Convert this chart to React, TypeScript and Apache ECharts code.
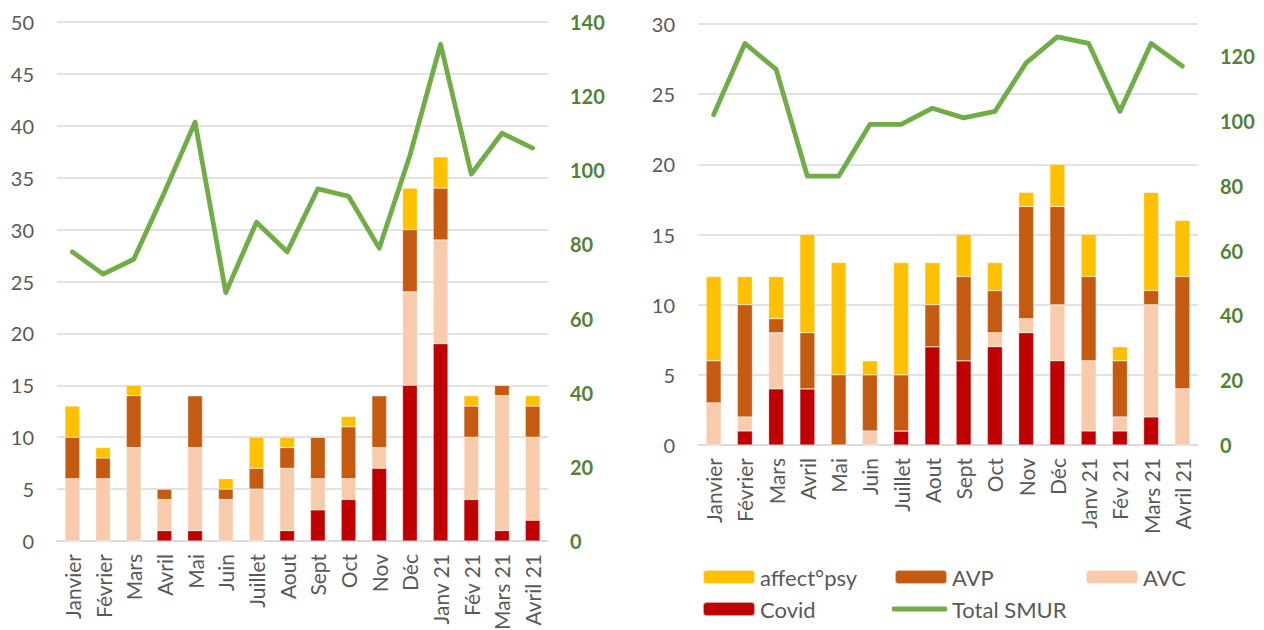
import React, { useEffect, useRef } from "react";
import * as echarts from "echarts";

const categories = ["Janvier", "Février", "Mars", "Avril", "Mai", "Juin", "Juillet", "Aout", "Sept", "Oct", "Nov", "Déc", "Janv 21", "Fév 21", "Mars 21", "Avril 21"];

// Left chart
const leftCovid = [0, 0, 0, 1, 1, 0, 0, 1, 3, 4, 7, 15, 19, 4, 1, 2];
const leftAVC = [6, 6, 9, 3, 8, 4, 5, 6, 3, 2, 2, 9, 10, 6, 13, 8];
const leftAVP = [4, 2, 5, 1, 5, 1, 2, 2, 4, 5, 5, 6, 5, 3, 1, 3];
const leftPsy = [3, 1, 1, 0, 0, 1, 3, 1, 0, 1, 0, 4, 3, 1, 0, 1];
const leftTotal = [78, 72, 76, 94, 113, 67, 86, 78, 95, 93, 79, 104, 134, 99, 110, 106];

// Right chart
const rightCovid = [0, 1, 4, 4, 0, 0, 1, 7, 6, 7, 8, 6, 1, 1, 2, 0];
const rightAVC = [3, 1, 4, 0, 0, 1, 0, 0, 0, 1, 1, 4, 5, 1, 8, 4];
const rightAVP = [3, 8, 1, 4, 5, 4, 4, 3, 6, 3, 8, 7, 6, 4, 1, 8];
const rightPsy = [6, 2, 3, 7, 8, 1, 8, 3, 3, 2, 1, 3, 3, 1, 7, 4];
const rightTotal = [102, 124, 116, 83, 83, 99, 99, 104, 101, 103, 118, 126, 124, 103, 124, 117];

const COLORS = {
  psy: "#FFC000",
  avp: "#C55A11",
  avc: "#F8CBAD",
  covid: "#C00000",
  total: "#70AD47",
};

const FONT = "Lato, 'Liberation Sans', sans-serif";
const GREY = "#595959";
const GREEN = "#548235";

export default function App() {
  const ref = useRef<HTMLDivElement>(null);

  useEffect(() => {
    if (!ref.current) return;
    const chart = echarts.init(ref.current, undefined, { renderer: "svg" });

    const xAxisCommon = (gridIndex: number) => ({
      type: "category" as const,
      gridIndex,
      data: categories,
      axisTick: { show: false },
      axisLine: { show: true, lineStyle: { color: "#D9D9D9", width: 1.5 } },
      axisLabel: {
        rotate: 90,
        margin: 13,
        interval: 0,
        color: GREY,
        fontSize: 21,
        fontFamily: FONT,
      },
    });

    const leftY = (gridIndex: number, max: number, interval: number) => ({
      type: "value" as const,
      gridIndex,
      min: 0,
      max,
      interval,
      axisLine: { show: false },
      axisTick: { show: false },
      splitLine: { show: true, lineStyle: { color: "#D9D9D9", width: 1.5 } },
      axisLabel: { color: GREY, fontSize: 20, fontFamily: FONT, margin: 23 },
    });

    const rightY = (gridIndex: number, max: number, showMax: boolean) => ({
      type: "value" as const,
      gridIndex,
      position: "right" as const,
      min: 0,
      max,
      interval: 20,
      axisLine: { show: false },
      axisTick: { show: false },
      splitLine: { show: false },
      axisLabel: {
        color: GREEN,
        fontSize: 20,
        fontWeight: "bold" as const,
        fontFamily: FONT,
        margin: 22,
        showMaxLabel: showMax,
      },
    });

    const bar = (name: string, data: number[], color: string, xi: number, yi: number) => ({
      name,
      type: "bar" as const,
      stack: "s" + xi,
      xAxisIndex: xi,
      yAxisIndex: yi,
      data,
      barWidth: "48%",
      itemStyle: { color, borderColor: "rgba(255,255,255,0.6)", borderWidth: 0.5 },
    });

    const line = (data: number[], xi: number, yi: number) => ({
      name: "Total SMUR",
      type: "line" as const,
      xAxisIndex: xi,
      yAxisIndex: yi,
      data,
      symbol: "none",
      z: 5,
      lineStyle: { color: COLORS.total, width: 4.8, cap: "round", join: "round" },
      itemStyle: { color: COLORS.total },
    });

    const legendItem = (name: string, left: number, top: number, extra: any = {}) => ({
      data: [name],
      left,
      top,
      padding: 0,
      itemWidth: 52,
      itemHeight: 14,
      itemGap: 0,
      selectedMode: false,
      textStyle: { color: GREY, fontSize: 22, fontFamily: FONT, lineHeight: 24 },
      ...extra,
    });

    chart.setOption({
      animation: false,
      backgroundColor: "#ffffff",
      grid: [
        { left: 57, right: 716, top: 22, bottom: 89, containLabel: false, outerBoundsMode: "none" },
        { left: 698, right: 66, top: 24, bottom: 185, containLabel: false, outerBoundsMode: "none" },
      ],
      xAxis: [xAxisCommon(0), xAxisCommon(1)],
      yAxis: [leftY(0, 50, 5), rightY(0, 140, true), leftY(1, 30, 5), rightY(1, 130, false)],
      legend: [
        legendItem("affect°psy", 702, 565),
        legendItem("AVP", 894, 565),
        legendItem("AVC", 1085, 565),
        legendItem("Covid", 702, 597),
        legendItem("Total SMUR", 892, 597, {
          data: [{ name: "Total SMUR", icon: "roundRect" }],
          itemWidth: 55,
          itemHeight: 5,
          itemStyle: { color: COLORS.total },
        }),
      ],
      series: [
        bar("Covid", leftCovid, COLORS.covid, 0, 0),
        bar("AVC", leftAVC, COLORS.avc, 0, 0),
        bar("AVP", leftAVP, COLORS.avp, 0, 0),
        bar("affect°psy", leftPsy, COLORS.psy, 0, 0),
        line(leftTotal, 0, 1),
        bar("Covid", rightCovid, COLORS.covid, 1, 2),
        bar("AVC", rightAVC, COLORS.avc, 1, 2),
        bar("AVP", rightAVP, COLORS.avp, 1, 2),
        bar("affect°psy", rightPsy, COLORS.psy, 1, 2),
        line(rightTotal, 1, 3),
      ],
    });

    return () => chart.dispose();
  }, []);

  return (
    <div
      ref={ref}
      style={{ position: "fixed", left: 0, top: 0, width: 1264, height: 630, background: "#fff" }}
    />
  );
}
